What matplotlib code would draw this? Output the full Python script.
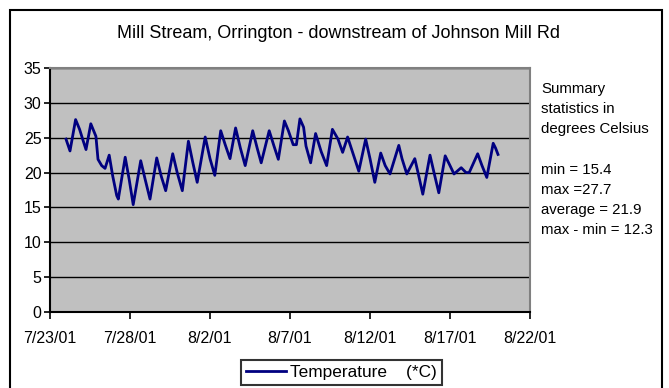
import datetime as dt
import matplotlib
matplotlib.use("Agg")
import matplotlib.pyplot as plt
import matplotlib.dates as mdates
from matplotlib.patches import Rectangle

plt.rcParams["font.family"] = ["Liberation Sans", "DejaVu Sans"]

# Readings: days after 7/23/01 00:00, temperature in deg C
day_offsets = [
    1.00, 1.25, 1.60, 1.85, 2.04, 2.25, 2.55, 2.87, 3.00, 3.23, 3.44, 3.70,
    3.92, 4.17, 4.27, 4.70, 4.95, 5.20, 5.67, 5.95, 6.25, 6.67, 6.95, 7.23,
    7.67, 7.95, 8.27, 8.65, 8.92, 9.20, 9.70, 10.00, 10.30, 10.67, 10.95, 11.25,
    11.60, 11.90, 12.20, 12.67, 12.95, 13.20, 13.70, 14.00, 14.27, 14.65, 14.90, 15.20,
    15.40, 15.62, 15.85, 16.00, 16.29, 16.60, 16.95, 17.29, 17.65, 18.00, 18.29, 18.60,
    18.90, 19.30, 19.73, 20.00, 20.30, 20.67, 20.95, 21.25, 21.80, 22.00, 22.30, 22.80,
    23.00, 23.30, 23.75, 24.00, 24.30, 24.70, 25.00, 25.25, 25.70, 26.00, 26.20, 26.73,
    27.00, 27.30, 27.70, 27.85, 28.00,
]
temps = [
    24.8, 23.1, 27.6, 26.2, 24.8, 23.3, 27.0, 25.2, 21.9, 21.0, 20.6, 22.5,
    19.5, 16.7, 16.2, 22.2, 19.0, 15.4, 21.7, 19.0, 16.2, 22.1, 19.5, 17.4,
    22.7, 20.0, 17.4, 24.5, 21.5, 18.6, 25.1, 22.0, 19.6, 26.0, 24.0, 22.0,
    26.4, 23.5, 21.0, 26.0, 23.5, 21.4, 26.0, 23.8, 21.9, 27.4, 26.0, 24.0,
    24.0, 27.7, 26.5, 23.8, 21.4, 25.6, 23.0, 21.0, 26.2, 24.8, 22.9, 25.1,
    23.0, 20.2, 24.8, 22.0, 18.6, 22.8, 21.0, 19.8, 23.9, 22.0, 19.8, 22.0,
    20.0, 16.9, 22.5, 20.0, 17.1, 22.4, 21.0, 19.8, 20.7, 20.0, 20.0, 22.7,
    21.0, 19.3, 24.2, 23.5, 22.6,
]

start = dt.datetime(2001, 7, 23)
times = [start + dt.timedelta(days=d) for d in day_offsets]

title = "Mill Stream, Orrington - downstream of Johnson Mill Rd"
summary_lines = [
    "Summary", "statistics in", "degrees Celsius", "",
    "min = 15.4", "max =27.7", "average = 21.9", "max - min = 12.3",
]

W, H = 669, 388
fig = plt.figure(figsize=(W / 100, H / 100), dpi=100)
fig.patch.set_facecolor("white")

ax = fig.add_axes([50 / W, (H - 312) / H, 480 / W, 244 / H])
ax.set_facecolor("#C0C0C0")

line, = ax.plot(times, temps, color="#000080", lw=2, label="Temperature    (*C)")

ax.set_ylim(0, 35)
ax.set_yticks(range(0, 36, 5))
ax.set_xlim(start, start + dt.timedelta(days=30))
ax.set_xticks([start + dt.timedelta(days=5 * i) for i in range(7)])
ax.xaxis.set_major_formatter(
    plt.FuncFormatter(lambda v, p: "{0.month}/{0.day}/{0:%y}".format(mdates.num2date(v)))
)

ax.grid(axis="y", color="black", lw=1)
ax.set_axisbelow(True)
for s in ["left", "bottom"]:
    ax.spines[s].set_color("black")
    ax.spines[s].set_linewidth(1.5)
for s in ["top", "right"]:
    ax.spines[s].set_color("#808080")
    ax.spines[s].set_linewidth(1.5)

ax.tick_params(axis="y", direction="out", length=4, width=1.2, labelsize=11.5, pad=2)
ax.tick_params(axis="x", direction="out", length=5, width=1.2, labelsize=11.5, pad=9)

fig.text(338 / W, 1 - 33 / H, title, ha="center", va="center", fontsize=13)

for i, txt in enumerate(summary_lines):
    fig.text(541 / W, 1 - (89 + 20.2 * i) / H, txt, ha="left", va="center", fontsize=10.8)

leg = fig.legend(handles=[line], loc="upper left",
                 bbox_to_anchor=(241 / W, 1 - 360 / H), fontsize=12.4,
                 frameon=True, fancybox=False, borderpad=0.3,
                 handlelength=2.3, handletextpad=0.25, borderaxespad=0)
leg.get_frame().set_edgecolor("black")
leg.get_frame().set_linewidth(1.5)

# outer chart border
fig.patches.append(Rectangle((10 / W, -0.1), 652 / W, (H - 10) / H + 0.1,
                             transform=fig.transFigure, fill=False,
                             edgecolor="black", lw=1.5))

fig.savefig("out.png", dpi=100)
